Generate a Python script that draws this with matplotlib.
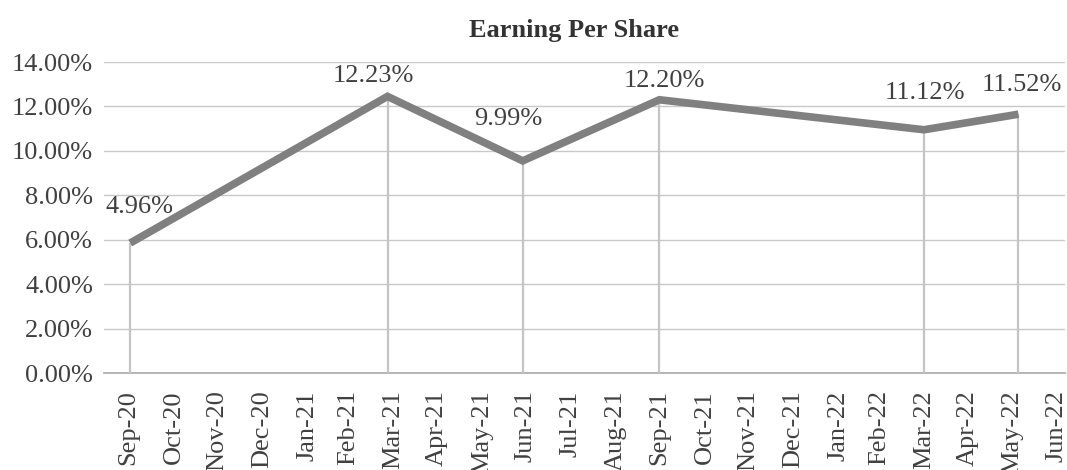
import matplotlib
matplotlib.use("Agg")
import matplotlib.pyplot as plt
import pandas as pd

# ---- data ----
title = "Earning Per Share"
point_dates = ["2020-10-01", "2021-03-27", "2021-06-28", "2021-09-30", "2022-03-31", "2022-06-04"]
eps_values = [5.85, 12.45, 9.55, 12.30, 10.95, 11.65]          # plotted level (%)
eps_labels = ["4.96%", "12.23%", "9.99%", "12.20%", "11.12%", "11.52%"]  # data labels as shown
tick_labels = ["Sep-20", "Oct-20", "Nov-20", "Dec-20", "Jan-21", "Feb-21", "Mar-21",
               "Apr-21", "May-21", "Jun-21", "Jul-21", "Aug-21", "Sep-21", "Oct-21",
               "Nov-21", "Dec-21", "Jan-22", "Feb-22", "Mar-22", "Apr-22", "May-22", "Jun-22"]
y_ticks = [0, 2, 4, 6, 8, 10, 12, 14]

# ---- style ----
label_offsets_px = [(9, -36), (-14, -20), (-14, -42), (5, -19), (1, -37), (3, -29)]
FONT = "Liberation Serif"
FS = 19
TXT = "#404040"

plt.rcParams['font.family'] = [FONT, 'DejaVu Serif']

fig = plt.figure(figsize=(10.67, 4.70), dpi=100)
ax = fig.add_axes([104/1067, (470-373)/470, (1065-104)/1067, (373-62)/470])

x = pd.to_datetime(point_dates)
tick_pos = pd.to_datetime(tick_labels, format="%b-%y") + pd.offsets.MonthEnd(0)

# drop lines
ax.vlines(x, 0, eps_values, colors="#c4c4c4", linewidth=1.6, zorder=2)
# main line
ax.plot(x, eps_values, color="#808080", linewidth=5.5, solid_joinstyle="miter",
        solid_capstyle="butt", zorder=3)

px2pt = 72 / 100
for xi, yi, lab, (dx, dy) in zip(x, eps_values, eps_labels, label_offsets_px):
    ax.annotate(lab, (xi, yi), xytext=(dx * px2pt, -dy * px2pt), textcoords="offset points",
                ha="center", va="center", fontsize=FS, color=TXT, zorder=4)

ax.set_xlim(pd.Timestamp("2020-09-13"), pd.Timestamp("2022-07-06"))
ax.set_ylim(0, 14)
ax.set_yticks(y_ticks)
ax.set_yticklabels([f"{v:.2f}%" for v in y_ticks])
ax.set_xticks(tick_pos)
ax.set_xticklabels(tick_labels, rotation=90)

ax.tick_params(axis="both", length=0, labelsize=FS, labelcolor=TXT)
ax.tick_params(axis="y", pad=8)
ax.tick_params(axis="x", pad=12.5)

ax.grid(axis="y", color="#c8c8c8", linewidth=1.0, zorder=0)
ax.set_axisbelow(True)
for s in ["top", "right", "left"]:
    ax.spines[s].set_visible(False)
ax.spines["bottom"].set_color("#b0b0b0")
ax.spines["bottom"].set_linewidth(1.3)
ax.spines["bottom"].set_zorder(1)

fig.text(574/1067, 1 - 30/470, title, ha="center", va="center", fontsize=FS,
         fontweight="bold", color="#333333")

fig.savefig("out.png", dpi=100)
